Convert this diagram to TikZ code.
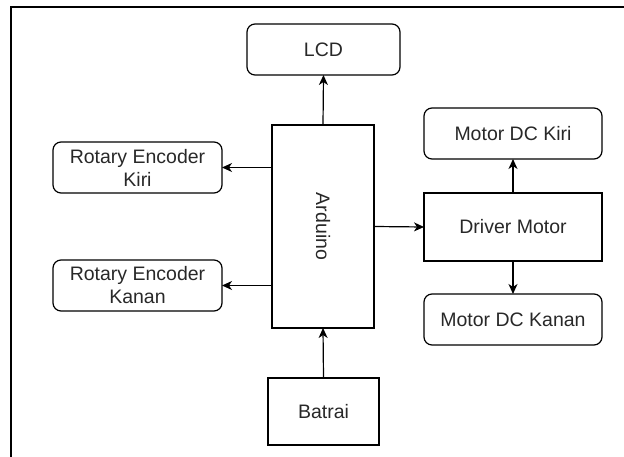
\documentclass[tikz,border=0pt]{standalone}
\usepackage{fontspec}
\setmainfont{Liberation Sans}
\usepackage{tikz}
\usetikzlibrary{arrows.meta,positioning,calc}
\definecolor{txtgray}{RGB}{40,40,40}

\begin{document}
\begin{tikzpicture}[x=1pt, y=-1pt,
  roundbox/.style={draw, line width=1.2pt, rounded corners=8pt, align=center, text=txtgray, font=\fontsize{19.5}{23}\selectfont, inner sep=0pt, outer sep=0pt},
  plainbox/.style={draw, line width=1.2pt, align=center, text=txtgray, font=\fontsize{19.5}{23}\selectfont, inner sep=0pt, outer sep=0pt},
  arr/.style={-{Stealth[length=10pt, width=9pt, inset=3pt]}, line width=1.2pt}]
  \useasboundingbox (0,0) rectangle (624,457);

  % Frame
  \draw[line width=1.6pt] (11,457) -- (11,7) -- (624,7);

  % Arduino box
  \node[plainbox, minimum width=102pt, minimum height=203pt] (arduino) at (323,226.5) {};
  \node[rotate=-90, text=txtgray, font=\fontsize{19.5}{23}\selectfont] (arduinolabel) at (arduino.center) {Arduino};

  % LCD box
  \node[roundbox, minimum width=153pt, minimum height=51pt] (lcd) at (323.5,49.5) {LCD};

  % Encoder boxes
  \node[roundbox, minimum width=169pt, minimum height=51pt] (enckiri) at (137.5,167.5) {Rotary Encoder\\Kiri};
  \node[roundbox, minimum width=169pt, minimum height=51pt] (enckanan) at (137.5,285.5) {Rotary Encoder\\Kanan};

  % Motor boxes
  \node[roundbox, minimum width=178pt, minimum height=51pt] (motorkiri) at (513,133.5) {Motor DC Kiri};
  \node[plainbox, minimum width=178pt, minimum height=68pt] (driver) at (513,227) {Driver Motor};
  \node[roundbox, minimum width=178pt, minimum height=51pt] (motorkanan) at (513,319.5) {Motor DC Kanan};

  % Batrai box
  \node[plainbox, minimum width=111pt, minimum height=67pt] (batrai) at (323.5,411.5) {Batrai};

  % Arrows
  \draw[arr] (arduino.north) -- (lcd.south);
  \draw[arr] (arduino.west |- enckiri.east) -- (enckiri.east);
  \draw[arr] (arduino.west |- enckanan.east) -- (enckanan.east);
  \draw[arr] (arduino.east) -- (driver.west);
  \draw[arr] (driver.north) -- (motorkiri.south);
  \draw[arr] (driver.south) -- (motorkanan.north);
  \draw[arr] (batrai.north) -- (arduino.south);
\end{tikzpicture}
\end{document}
